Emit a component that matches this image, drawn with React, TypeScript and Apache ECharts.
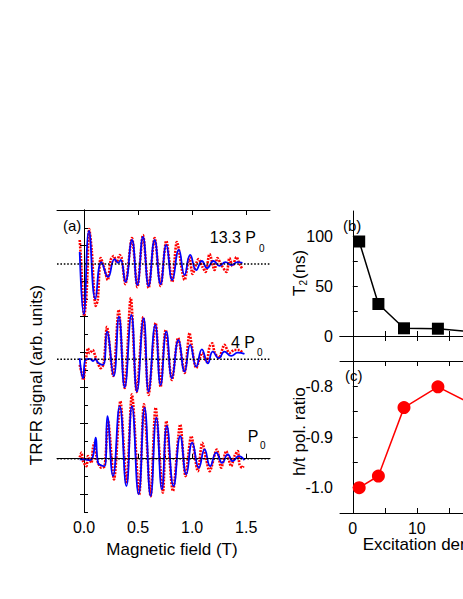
import React, { useEffect, useRef } from "react";
import * as echarts from "echarts";

const FONT = "'Liberation Sans', Arial, Helvetica, sans-serif";

// Panel (a): magnetic field ticks
const fieldTicks = [0, 0.5, 1.0, 1.5];
const fieldMinorTicks = [0.25, 0.75, 1.25];
const signalTicksRight = [-2, 0, 2, 4, 6, 8, 10, 12];

// trace vertical offsets (arb. units): 13.3 P0, 4 P0, P0
const traceOffsets = [10.96, 5.6, 0];

// [field (T), signal (arb.)] fit curves and measured data
const fit133 = [
  [-0.04, 0.68], [-0.003, -2.82], [0.046, 1.86], [0.105, -1.97], [0.161, 0.11], [0.222, -0.73],
  [0.283, 0.28], [0.316, 0.06], [0.339, 0.23], [0.382, -1.01], [0.443, 1.35], [0.493, -1.18],
  [0.545, 1.52], [0.597, -1.24], [0.653, 1.35], [0.708, -1.13], [0.761, 1.07], [0.816, -0.9],
  [0.877, 0.79], [0.93, -0.62], [0.982, 0.51], [1.038, -0.34], [1.09, 0.17], [1.139, -0.23],
  [1.198, 0.17], [1.253, -0.11], [1.308, 0.11], [1.364, -0.06], [1.419, 0.11], [1.465, 0.06],
];
const data133 = [
  [-0.04, 1.35], [-0.03, 0.45], [0.002, -2.93], [0.025, -1.46], [0.048, 1.97], [0.071, 0.79],
  [0.108, -2.36], [0.127, -2.03], [0.154, 0.34], [0.182, -0.11], [0.219, -0.9], [0.247, 0.23],
  [0.274, 0.45], [0.302, 0.11], [0.33, 0.51], [0.348, 0.34], [0.382, -1.13], [0.443, 1.46],
  [0.493, -1.3], [0.545, 1.63], [0.597, -1.35], [0.653, 1.46], [0.708, -1.24], [0.761, 1.3],
  [0.816, -1.01], [0.859, 1.24], [0.93, -0.9], [0.976, 0.39], [1.004, -0.56], [1.059, 0.28],
  [1.096, -0.17], [1.124, -0.45], [1.161, 0.56], [1.207, -0.34], [1.234, 0.34], [1.271, -0.06],
  [1.318, -0.45], [1.345, 0.34], [1.373, -0.11], [1.41, 0.39], [1.438, 0.0], [1.465, -0.28],
];
const fit4 = [
  [-0.04, 0.06], [-0.009, -1.07], [0.016, 0.0], [0.053, 0.02], [0.083, -0.1], [0.105, 0.02],
  [0.129, -0.19], [0.175, -0.32], [0.212, 1.55], [0.274, -0.94], [0.323, 2.4], [0.376, -1.58],
  [0.438, 2.49], [0.489, -1.82], [0.551, 2.31], [0.597, -1.82], [0.659, 1.93], [0.708, -1.45],
  [0.761, 1.55], [0.813, -1.07], [0.874, 1.09], [0.93, -0.7], [0.982, 0.81], [1.038, -0.42],
  [1.09, 0.56], [1.145, -0.23], [1.191, 0.43], [1.247, 0.06], [1.299, 0.43], [1.361, 0.19],
  [1.422, 0.37], [1.484, 0.3],
];
const data4 = [
  [-0.04, -0.32], [-0.024, -0.72], [-0.007, -1.17], [0.016, -0.15], [0.037, 0.62], [0.053, 0.34],
  [0.08, 0.52], [0.105, 0.15], [0.129, -0.23], [0.154, -0.51], [0.182, -0.26], [0.212, 1.82],
  [0.27, -0.94], [0.32, 2.78], [0.376, -1.62], [0.432, 3.45], [0.487, -1.84], [0.547, 2.38],
  [0.597, -2.01], [0.662, 2.04], [0.708, -1.56], [0.755, 1.65], [0.813, -1.17], [0.87, 1.2],
  [0.93, -0.77], [0.976, 1.48], [0.995, 0.81], [1.038, -0.49], [1.093, 0.35], [1.133, -0.15],
  [1.161, 0.71], [1.186, 0.9], [1.207, 0.41], [1.247, 0.07], [1.299, 0.81], [1.345, 0.35],
  [1.391, 0.52], [1.438, 0.52], [1.468, 0.34],
];
const fitP0 = [
  [-0.04, -0.04], [0.006, -0.04], [0.053, -0.08], [0.083, 0.15], [0.108, 1.18], [0.129, -0.23],
  [0.161, -0.38], [0.191, -0.42], [0.216, 2.4], [0.268, -0.98], [0.33, 2.96], [0.392, -1.54],
  [0.443, 2.96], [0.505, -2.01], [0.56, 2.87], [0.616, -2.11], [0.669, 2.31], [0.72, -1.73],
  [0.766, 1.84], [0.828, -1.54], [0.89, 1.27], [0.946, -0.88], [1.001, 0.9], [1.062, -0.51],
  [1.115, 0.52], [1.167, -0.42], [1.223, 0.34], [1.278, -0.23], [1.33, 0.24], [1.376, -0.14],
  [1.431, 0.15], [1.484, -0.08],
];
const dataP0 = [
  [-0.04, 0.07], [-0.024, 0.34], [-0.009, -0.14], [0.022, -0.42], [0.037, 0.15], [0.068, -0.23],
  [0.083, 0.62], [0.099, 0.9], [0.114, 0.15], [0.129, -0.23], [0.161, -0.51], [0.191, -0.42],
  [0.222, 2.12], [0.277, -1.17], [0.336, 3.24], [0.392, -1.39], [0.443, 3.62], [0.51, -2.01],
  [0.554, 3.06], [0.616, -2.12], [0.662, 2.87], [0.729, -1.91], [0.761, 2.12], [0.822, -1.82],
  [0.89, 1.93], [0.939, -0.98], [0.992, 1.27], [1.053, -0.7], [1.093, 0.9], [1.13, -0.04],
  [1.161, -0.7], [1.228, 0.52], [1.269, -0.51], [1.315, 0.43], [1.361, -0.42], [1.392, 0.15],
  [1.422, 0.43], [1.438, -0.32], [1.463, -0.51], [1.475, -0.42],
];

// Panels (b) and (c)
const densities = [1, 4, 8, 13.3, 20];
const t2Values = [94.5, 32, 7.7, 7.3, 3.5];
const polRatio = [-1.0, -0.977, -0.842, -0.801, -0.844];
const densityTicks = [0, 5, 10, 15];
const densityLabels = [0, 10];
const t2Ticks = [0, 25, 50, 75, 100];
const t2Labels = [0, 50, 100];
const ratioTicks = [-1.0, -0.95, -0.9, -0.85, -0.8];
const ratioLabels = [-1.0, -0.9, -0.8];

const axisLine = { show: true, lineStyle: { color: "#000", width: 1 } };
const tick = (values: number[], length: number) => ({
  show: true,
  inside: true,
  length,
  customValues: values,
  lineStyle: { color: "#000", width: 1 },
});
const noLabel = { show: false };
const label = (values: number[], fmt: (v: number) => string) => ({
  show: true,
  customValues: values,
  formatter: fmt,
  margin: 7,
  fontSize: 16,
  color: "#000",
  fontFamily: FONT,
});

function shift(arr: number[][], off: number) {
  return arr.map(([x, y]) => [x, y + off]);
}

function buildOption() {
  const traces = [
    { fit: fit133, data: data133, off: traceOffsets[0] },
    { fit: fit4, data: data4, off: traceOffsets[1] },
    { fit: fitP0, data: dataP0, off: traceOffsets[2] },
  ];
  const series: any[] = [];
  traces.forEach((t) => {
    series.push({
      type: "line", xAxisIndex: 0, yAxisIndex: 0, data: shift(t.data, t.off),
      symbol: "none", smooth: 0.3, z: 2,
      lineStyle: { color: "#ff0000", width: 2.6, type: [2, 1.2] },
    });
  });
  traces.forEach((t) => {
    series.push({
      type: "line", xAxisIndex: 0, yAxisIndex: 0, data: shift(t.fit, t.off),
      symbol: "none", smooth: 0.5, z: 3,
      lineStyle: { color: "#0000ff", width: 1.8 },
    });
  });
  traces.forEach((t) => {
    series.push({
      type: "line", xAxisIndex: 0, yAxisIndex: 0, data: [[-0.25, t.off], [1.72, t.off]],
      symbol: "none", z: 4,
      lineStyle: { color: "#000", width: 1.6, type: [1.6, 1.8] },
    });
  });
  series.push({
    type: "line", xAxisIndex: 3, yAxisIndex: 2,
    data: densities.map((d, i) => [d, t2Values[i]]),
    symbol: "rect", symbolSize: 12, clip: true,
    itemStyle: { color: "#000" },
    lineStyle: { color: "#000", width: 1.5 },
  });
  series.push({
    type: "line", xAxisIndex: 5, yAxisIndex: 4,
    data: densities.map((d, i) => [d, polRatio[i]]),
    symbol: "circle", symbolSize: 13, clip: true,
    itemStyle: { color: "#ff0000" },
    lineStyle: { color: "#ff0000", width: 1.5 },
  });

  const txt = (text: string, x: number, y: number, size: number, align = "left", extra: any = {}) => ({
    type: "text", x, y, ...extra,
    style: { text, fontSize: size, fontFamily: FONT, fill: "#000", align, verticalAlign: "middle" },
  });

  return {
    animation: false,
    backgroundColor: "#fff",
    grid: [
      { left: 57, top: 210, width: 213, height: 302 },
      { left: 340, top: 211, width: 123, height: 150 },
      { left: 340, top: 361, width: 123, height: 152 },
    ],
    xAxis: [
      { gridIndex: 0, type: "value", min: -0.25, max: 1.72, position: "bottom", axisLine,
        axisTick: tick(fieldTicks, 5), axisLabel: label(fieldTicks, (v) => v.toFixed(1)), splitLine: { show: false } },
      { gridIndex: 0, type: "value", min: -0.25, max: 1.72, position: "bottom", axisLine: { show: false },
        axisTick: tick(fieldMinorTicks, 3), axisLabel: noLabel, splitLine: { show: false } },
      { gridIndex: 0, type: "value", min: -0.25, max: 1.72, position: "top", axisLine,
        axisTick: tick(fieldTicks, 5), axisLabel: noLabel, splitLine: { show: false } },
      { gridIndex: 1, type: "value", min: -2, max: 17.22, position: "bottom", axisLine,
        axisTick: tick(densityTicks, 5), axisLabel: noLabel, splitLine: { show: false } },
      { gridIndex: 1, type: "value", min: -2, max: 17.22, position: "top", axisLine,
        axisTick: tick(densityTicks, 5), axisLabel: noLabel, splitLine: { show: false } },
      { gridIndex: 2, type: "value", min: -2, max: 17.22, position: "bottom", axisLine,
        axisTick: tick(densityTicks, 5), axisLabel: label(densityLabels, (v) => String(v)), splitLine: { show: false } },
      { gridIndex: 2, type: "value", min: -2, max: 17.22, position: "top", axisLine,
        axisTick: tick(densityTicks, 5), axisLabel: noLabel, splitLine: { show: false } },
    ],
    yAxis: [
      { gridIndex: 0, type: "value", min: -3, max: 14, interval: 1, position: "left", axisLine,
        axisTick: { show: true, inside: true, length: 4, lineStyle: { color: "#000" } }, axisLabel: noLabel, splitLine: { show: false } },
      { gridIndex: 0, type: "value", min: -3, max: 14, position: "right", axisLine,
        axisTick: tick(signalTicksRight, 4), axisLabel: noLabel, splitLine: { show: false } },
      { gridIndex: 1, type: "value", min: -25, max: 125, position: "left", axisLine,
        axisTick: tick(t2Ticks, 5), axisLabel: label(t2Labels, (v) => String(v)), splitLine: { show: false } },
      { gridIndex: 1, type: "value", min: -25, max: 125, position: "right", axisLine: { show: false },
        axisTick: { show: false }, axisLabel: noLabel, splitLine: { show: false } },
      { gridIndex: 2, type: "value", min: -1.05, max: -0.75, position: "left", axisLine,
        axisTick: tick(ratioTicks, 5), axisLabel: label(ratioLabels, (v) => v.toFixed(1)), splitLine: { show: false } },
      { gridIndex: 2, type: "value", min: -1.05, max: -0.75, position: "right", axisLine: { show: false },
        axisTick: { show: false }, axisLabel: noLabel, splitLine: { show: false } },
    ],
    series,
    graphic: [
      txt("(a)", 63, 225, 15),
      txt("(b)", 343, 225, 15),
      txt("(c)", 345, 375, 15),
      txt("13.3 P", 256, 237, 16, "right"),
      txt("0", 259, 248, 10),
      txt("4 P", 255, 342, 16, "right"),
      txt("0", 257, 352.5, 10),
      txt("P", 258.3, 436, 16, "right"),
      txt("0", 260, 445.5, 10),
      txt("TRFR signal (arb. units)", 36, 375, 17, "center", { rotation: Math.PI / 2 }),
      txt("h/t pol. ratio", 299, 431.7, 17, "center", { rotation: Math.PI / 2 }),
      {
        type: "group", x: 299, y: 296, rotation: Math.PI / 2,
        children: [
          txt("T", 0, 0, 17),
          txt("2", 10.5, 4.5, 10),
          txt("(ns)", 17, 0, 17),
        ],
      },
      txt("Magnetic field (T)", 172, 549, 17, "center"),
      txt("Excitation density", 362.7, 544.5, 17),
    ],
  };
}

export default function App() {
  const ref = useRef<HTMLDivElement>(null);
  useEffect(() => {
    document.body.style.margin = "0";
    const chart = echarts.init(ref.current!, null, { renderer: "svg" });
    chart.setOption(buildOption() as any);
    return () => chart.dispose();
  }, []);
  return <div ref={ref} style={{ width: 463, height: 599 }} />;
}
